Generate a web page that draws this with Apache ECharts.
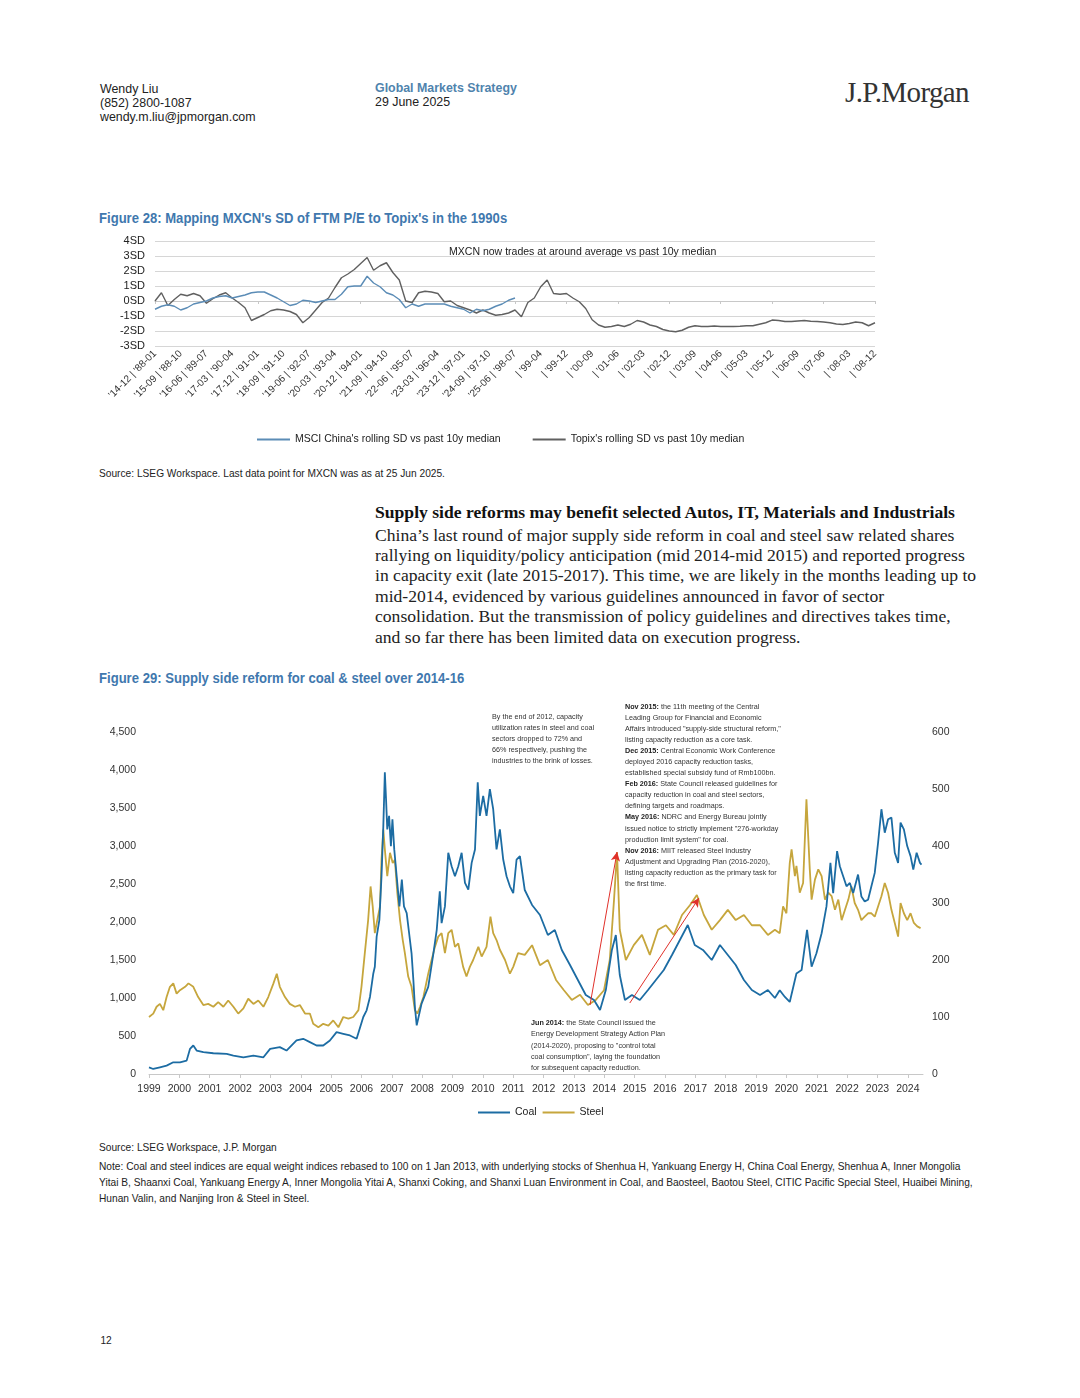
<!DOCTYPE html>
<html>
<head>
<meta charset="utf-8">
<script src="https://cdn.jsdelivr.net/npm/echarts@6/dist/echarts.min.js"></script>
<style>
  html,body{margin:0;padding:0;background:#fff;}
  #page{position:relative;width:1080px;height:1398px;background:#fff;overflow:hidden;
    font-family:'Liberation Sans',Arial,sans-serif;color:#222;}
  .abs{position:absolute;white-space:nowrap;}
  .nar{transform-origin:0 0;}
  .hdr{font-size:12.4px;line-height:14px;color:#222;}
  .blue{color:#4f83ad;font-weight:bold;}
  .ftitle{font-size:14px;line-height:18px;font-weight:bold;color:#3f78ae;transform:scaleX(0.935);}
  .src{font-size:11px;line-height:14px;color:#222;transform:scaleX(0.925);}
  .serif{font-family:'Liberation Serif','Times New Roman',serif;}
  .ann{font-size:8px;color:#333;transform:scaleX(0.9);}
  .ann b{font-weight:bold;color:#222;}
</style>
</head>
<body>
<div id="page">
  <div class="abs hdr" style="left:100px;top:82px;">Wendy Liu<br>(852) 2800-1087<br>wendy.m.liu@jpmorgan.com</div>
  <div class="abs hdr" style="left:375px;top:81px;"><span class="blue">Global Markets Strategy</span><br>29 June 2025</div>
  <div class="abs serif" style="left:845px;top:76px;font-size:29px;line-height:32px;color:#333;letter-spacing:-0.6px;">J.P.Morgan</div>

  <div class="abs nar ftitle" style="left:99px;top:209px;">Figure 28: Mapping MXCN's SD of FTM P/E to Topix's in the 1990s</div>
  <div id="c28" class="abs" style="left:95px;top:230px;width:820px;height:225px;"></div>
  <div class="abs nar" style="left:449px;top:244px;font-size:11.5px;line-height:14px;color:#222;transform:scaleX(0.915);">MXCN now trades at around average vs past 10y median</div>
  <div class="abs nar src" style="left:99px;top:466px;">Source: LSEG Workspace. Last data point for MXCN was as at 25 Jun 2025.</div>

  <div class="abs serif" style="left:375px;top:502px;font-size:17.6px;line-height:21px;font-weight:bold;color:#111;">Supply side reforms may benefit selected Autos, IT, Materials and Industrials</div>
  <div class="abs serif" style="left:375px;top:524.5px;font-size:17.6px;line-height:20.4px;color:#222;">China’s last round of major supply side reform in coal and steel saw related shares<br>rallying on liquidity/policy anticipation (mid 2014-mid 2015) and reported progress<br>in capacity exit (late 2015-2017). This time, we are likely in the months leading up to<br>mid-2014, evidenced by various guidelines announced in favor of sector<br>consolidation. But the transmission of policy guidelines and directives takes time,<br>and so far there has been limited data on execution progress.</div>

  <div class="abs nar ftitle" style="left:99px;top:669px;">Figure 29: Supply side reform for coal &amp; steel over 2014-16</div>
  <div id="c29" class="abs" style="left:95px;top:695px;width:880px;height:430px;"></div>
  <div class="abs nar ann" style="left:492px;top:710.5px;line-height:11px;">By the end of 2012, capacity<br>utilization rates in steel and coal<br>sectors dropped to 72% and<br>66% respectively, pushing the<br>industries to the brink of losses.</div>
  <div class="abs nar ann" style="left:625px;top:700.5px;line-height:11.1px;"><b>Nov 2015:</b> the 11th meeting of the Central<br>Leading Group for Financial and Economic<br>Affairs introduced "supply-side structural reform,"<br>listing capacity reduction as a core task.<br><b>Dec 2015:</b> Central Economic Work Conference<br>deployed 2016 capacity reduction tasks,<br>established special subsidy fund of Rmb100bn.<br><b>Feb 2016:</b> State Council released guidelines for<br>capacity reduction in coal and steel sectors,<br>defining targets and roadmaps.<br><b>May 2016:</b> NDRC and Energy Bureau jointly<br>issued notice to strictly implement "276-workday<br>production limit system" for coal.<br><b>Nov 2016:</b> MIIT released Steel Industry<br>Adjustment and Upgrading Plan (2016-2020),<br>listing capacity reduction as the primary task for<br>the first time.</div>
  <div class="abs nar ann" style="left:531px;top:1017px;line-height:11.25px;"><b>Jun 2014:</b> the State Council issued the<br>Energy Development Strategy Action Plan<br>(2014-2020), proposing to "control total<br>coal consumption", laying the foundation<br>for subsequent capacity reduction.</div>

  <div class="abs nar src" style="left:99px;top:1140px;">Source: LSEG Workspace, J.P. Morgan</div>
  <div class="abs nar src" style="left:99px;top:1158px;line-height:16px;">Note: Coal and steel indices are equal weight indices rebased to 100 on 1 Jan 2013, with underlying stocks of Shenhua H, Yankuang Energy H, China Coal Energy, Shenhua A, Inner Mongolia<br>Yitai B, Shaanxi Coal, Yankuang Energy A, Inner Mongolia Yitai A, Shanxi Coking, and Shanxi Luan Environment in Coal, and Baosteel, Baotou Steel, CITIC Pacific Special Steel, Huaibei Mining,<br>Hunan Valin, and Nanjing Iron &amp; Steel in Steel.</div>
  <div class="abs src" style="left:100px;top:1333px;">12</div>
</div>
<script>
// ---------- Figure 28 data ----------
const fig28TickLabels = ["'14-12 | '88-01","'15-09 | '88-10","'16-06 | '89-07","'17-03 | '90-04","'17-12 | '91-01","'18-09 | '91-10","'19-06 | '92-07","'20-03 | '93-04","'20-12 | '94-01","'21-09 | '94-10","'22-06 | '95-07","'23-03 | '96-04","'23-12 | '97-01","'24-09 | '97-10","'25-06 | '98-07","| '99-04","| '99-12","| '00-09","| '01-06","| '02-03","| '02-12","| '03-09","| '04-06","| '05-03","| '05-12","| '06-09","| '07-06","| '08-03","| '08-12"];
const topixSD = [0.0,0.55,-0.3,0.1,0.45,0.35,0.5,0.35,-0.15,0.15,
  0.4,0.55,0.2,-0.1,-0.45,-1.3,-1.1,-0.9,-0.65,-0.55,
  -0.6,-0.7,-0.9,-1.45,-1.1,-0.6,-0.1,0.2,0.9,1.55,
  1.8,2.1,2.5,2.9,2.05,2.35,2.55,1.9,1.4,0.0,
  -0.1,0.55,0.65,0.6,0.5,-0.05,0.0,-0.3,-0.45,-0.6,
  -0.8,-0.6,-0.8,-0.95,-0.9,-0.8,-0.6,-1.05,-0.1,0.2,
  0.95,1.4,0.5,0.45,0.5,0.2,-0.05,-0.5,-1.25,-1.6,
  -1.75,-1.7,-1.6,-1.7,-1.55,-1.3,-1.4,-1.6,-1.7,-1.9,
  -2.0,-2.05,-1.95,-1.75,-1.65,-1.7,-1.7,-1.67,-1.7,-1.7,
  -1.7,-1.68,-1.65,-1.65,-1.55,-1.45,-1.27,-1.3,-1.37,-1.37,
  -1.33,-1.3,-1.35,-1.37,-1.4,-1.45,-1.53,-1.57,-1.5,-1.4,
  -1.45,-1.65,-1.45];
const msciSD = [-0.55,-0.35,-0.25,-0.35,-0.6,-0.45,-0.2,-0.1,0.0,0.2,
  0.3,0.35,0.2,0.3,0.4,0.55,0.6,0.6,0.4,0.2,
  -0.05,-0.3,-0.2,0.05,0.0,-0.1,0.0,0.1,0.1,0.45,
  0.95,1.0,1.0,1.65,1.2,0.95,0.55,0.4,0.1,-0.45,
  -0.2,-0.35,-0.2,-0.2,-0.2,-0.2,-0.35,-0.45,-0.55,-0.8,
  -0.55,-0.65,-0.55,-0.35,-0.2,0.05,0.2];
const stepsPerTick = 4;

// ---------- Figure 29 data ----------
const coal = [
 [1999.00,88],[1999.14,66],[1999.36,88],[1999.58,110],[1999.80,154],[2000.02,154],[2000.24,176],[2000.35,330],[2000.46,375],[2000.57,309],
 [2000.79,287],[2001.12,273],[2001.56,265],[2001.78,243],[2002.11,220],[2002.44,243],[2002.77,220],[2002.99,330],[2003.31,353],[2003.53,309],
 [2003.86,441],[2004.08,463],[2004.30,419],[2004.52,375],[2004.74,375],[2004.96,441],[2005.18,551],[2005.40,529],[2005.62,507],[2005.84,463],
 [2006.06,750],[2006.17,838],[2006.28,1014],[2006.39,1323],[2006.44,1411],[2006.50,1808],[2006.59,2029],[2006.66,2602],[2006.72,3263],[2006.77,3969],
 [2006.81,3616],[2006.85,3219],[2006.91,3396],[2006.97,2999],[2007.02,3352],[2007.08,2955],[2007.16,2602],[2007.25,2205],[2007.33,2558],[2007.40,2205],
 [2007.49,2117],[2007.57,1852],[2007.65,1588],[2007.71,1235],[2007.76,882],[2007.82,640],[2007.98,926],[2008.20,1147],[2008.37,1588],[2008.48,1897],
 [2008.58,2403],[2008.64,1985],[2008.75,2205],[2008.86,2910],[2008.97,2734],[2009.08,2602],[2009.19,2734],[2009.30,2910],[2009.41,2514],[2009.52,2425],
 [2009.63,2778],[2009.74,2955],[2009.83,3837],[2009.90,3396],[2010.01,3660],[2010.12,3396],[2010.23,3748],[2010.34,3484],[2010.45,2955],[2010.56,3219],
 [2010.67,2822],[2010.78,2602],[2010.89,2470],[2011.00,2381],[2011.11,2822],[2011.22,2866],[2011.38,2421],[2011.62,2224],[2011.88,2092],[2012.14,1829],
 [2012.37,1895],[2012.60,1632],[2012.87,1434],[2013.13,1237],[2013.39,1040],[2013.66,974],[2013.86,842],[2014.05,1105],[2014.25,1632],[2014.38,1829],
 [2014.51,1303],[2014.68,974],[2014.91,1040],[2015.17,974],[2015.44,1105],[2015.70,1237],[2015.96,1369],[2016.23,1566],[2016.49,1763],[2016.75,1961],
 [2016.98,1698],[2017.25,1632],[2017.54,1500],[2017.81,1698],[2018.07,1566],[2018.33,1434],[2018.60,1237],[2018.86,1105],[2019.13,1040],[2019.39,1105],
 [2019.62,1000],[2019.78,1103],[2019.95,1014],[2020.11,948],[2020.33,1323],[2020.50,1367],[2020.68,1896],[2020.83,1411],[2020.99,1588],[2021.16,1852],
 [2021.32,2205],[2021.45,2778],[2021.54,2381],[2021.67,2933],[2021.76,2734],[2021.87,2602],[2021.98,2470],[2022.09,2514],[2022.20,2381],[2022.36,2624],
 [2022.47,2337],[2022.58,2271],[2022.69,2293],[2022.80,2470],[2022.91,2646],[2023.02,3043],[2023.13,3484],[2023.24,3175],[2023.35,3352],[2023.46,3374],
 [2023.57,2911],[2023.68,2778],[2023.76,3308],[2023.87,3219],[2023.98,2999],[2024.09,2867],[2024.18,2690],[2024.29,2911],[2024.40,2778],[2024.45,2756]
];
const steel = [
 [1999.00,100],[1999.14,106],[1999.25,118],[1999.36,123],[1999.47,112],[1999.58,135],[1999.69,153],[1999.80,159],[1999.91,141],[2000.02,147],
 [2000.19,153],[2000.30,159],[2000.46,153],[2000.62,135],[2000.79,121],[2000.95,123],[2001.12,118],[2001.28,126],[2001.45,118],[2001.61,129],
 [2001.78,118],[2001.94,106],[2002.11,115],[2002.27,132],[2002.44,123],[2002.60,129],[2002.77,118],[2002.93,135],[2003.10,159],[2003.21,176],
 [2003.31,153],[2003.48,135],[2003.64,123],[2003.81,118],[2003.97,121],[2004.14,106],[2004.30,106],[2004.41,88],[2004.58,82],[2004.74,88],
 [2004.91,85],[2005.07,94],[2005.24,82],[2005.40,100],[2005.57,97],[2005.73,100],[2005.90,112],[2006.00,153],[2006.11,212],[2006.22,270],
 [2006.30,329],[2006.37,294],[2006.44,247],[2006.52,270],[2006.61,294],[2006.66,376],[2006.72,429],[2006.77,394],[2006.85,347],[2006.94,388],
 [2007.03,370],[2007.10,376],[2007.18,318],[2007.27,270],[2007.36,235],[2007.43,212],[2007.54,171],[2007.65,153],[2007.76,112],[2007.84,106],
 [2007.93,118],[2008.04,135],[2008.20,176],[2008.31,200],[2008.42,223],[2008.53,241],[2008.64,247],[2008.75,212],[2008.86,247],[2008.97,253],
 [2009.08,223],[2009.19,229],[2009.35,188],[2009.46,171],[2009.57,188],[2009.68,200],[2009.85,223],[2009.96,206],[2010.12,223],[2010.25,276],
 [2010.34,247],[2010.45,235],[2010.56,218],[2010.73,200],[2010.89,176],[2011.00,188],[2011.16,212],[2011.38,209],[2011.62,226],[2011.88,191],
 [2012.14,200],[2012.41,165],[2012.67,147],[2012.93,130],[2013.20,139],[2013.46,121],[2013.72,130],[2013.99,147],[2014.18,200],[2014.32,305],
 [2014.42,389],[2014.51,253],[2014.71,200],[2014.97,226],[2015.24,244],[2015.50,209],[2015.77,253],[2016.03,261],[2016.29,244],[2016.56,279],
 [2016.82,296],[2017.05,314],[2017.28,279],[2017.54,253],[2017.81,270],[2018.07,288],[2018.33,270],[2018.60,279],[2018.86,261],[2019.13,261],
 [2019.39,244],[2019.62,253],[2019.78,247],[2019.89,294],[2020.00,282],[2020.11,370],[2020.17,394],[2020.28,347],[2020.33,365],[2020.44,318],
 [2020.55,335],[2020.66,482],[2020.77,359],[2020.83,306],[2020.94,341],[2021.05,359],[2021.16,347],[2021.27,306],[2021.38,318],[2021.49,312],
 [2021.60,288],[2021.71,306],[2021.82,270],[2021.93,288],[2022.04,306],[2022.14,329],[2022.25,300],[2022.36,288],[2022.47,270],[2022.58,276],
 [2022.69,282],[2022.80,282],[2022.91,276],[2023.02,294],[2023.13,312],[2023.24,335],[2023.35,318],[2023.46,288],[2023.57,265],[2023.68,241],
 [2023.76,300],[2023.87,282],[2023.98,270],[2024.09,282],[2024.20,265],[2024.31,259],[2024.42,256]
];
const yearMin = 1999, yearMax = 2024.5;
const arrows = [
  [[2013.53, 908],[2014.42, 2921]],
  [[2014.84, 934],[2017.12, 2316]]
];

const FF = "'Liberation Sans',Arial,sans-serif";

// ---------- Figure 28 chart ----------
const c28 = echarts.init(document.getElementById('c28'), null, {renderer:'canvas'});
const maxIdx = (fig28TickLabels.length - 1) * stepsPerTick;
c28.setOption({
  animation:false,
  textStyle:{fontFamily:FF},
  grid:{left:60, top:11, width:720, height:105},
  legend:{
    left:157, top:199, itemWidth:33, itemHeight:2, itemGap:32, icon:'rect',
    textStyle:{fontFamily:FF, fontSize:10.5, color:'#222'},
    data:["MSCI China's rolling SD vs past 10y median","Topix's rolling SD vs past 10y median"]
  },
  xAxis:[{
    type:'value', min:0, max:maxIdx, interval:stepsPerTick,
    axisLine:{show:false, onZero:false}, axisTick:{show:false}, splitLine:{show:false},
    axisLabel:{rotate:45, fontSize:10, color:'#333', margin:6, fontFamily:FF,
      formatter:v => fig28TickLabels[Math.round(v/stepsPerTick)] || ''}
  },{
    type:'value', min:0, max:maxIdx, interval:stepsPerTick*2, position:'bottom',
    axisLine:{show:true, onZero:true, lineStyle:{color:'#c8c8c8', width:1}},
    axisTick:{show:true, length:3, inside:false, lineStyle:{color:'#c8c8c8'}},
    axisLabel:{show:false}, splitLine:{show:false}
  }],
  yAxis:{
    type:'value', min:-3, max:4, interval:1,
    axisLine:{show:false}, axisTick:{show:false},
    splitLine:{show:true, lineStyle:{color:'#d6d6d6', width:1}},
    axisLabel:{formatter:v => v + 'SD', fontSize:11, color:'#222', margin:10, fontFamily:FF}
  },
  series:[{
    name:"MSCI China's rolling SD vs past 10y median", type:'line', xAxisIndex:0,
    data: msciSD.map((v,i)=>[i,v]), showSymbol:false, symbol:'none',
    lineStyle:{color:'#5b8cb6', width:1.4}, itemStyle:{color:'#5b8cb6'}, z:3
  },{
    name:"Topix's rolling SD vs past 10y median", type:'line', xAxisIndex:0,
    data: topixSD.map((v,i)=>[i,v]), showSymbol:false, symbol:'none',
    lineStyle:{color:'#606060', width:1.4}, itemStyle:{color:'#606060'}, z:2
  }]
});

// ---------- Figure 29 chart ----------
const c29 = echarts.init(document.getElementById('c29'), null, {renderer:'canvas'});
c29.setOption({
  animation:false,
  textStyle:{fontFamily:FF},
  grid:{left:54, top:37, width:774, height:342},
  legend:{
    left:378, top:407, itemWidth:32, itemHeight:2, itemGap:6, icon:'rect',
    textStyle:{fontFamily:FF, fontSize:10.5, color:'#222'},
    data:['Coal','Steel']
  },
  xAxis:{
    type:'value', min:yearMin, max:yearMax, interval:1,
    axisLine:{show:true, onZero:false, lineStyle:{color:'#c8c8c8'}},
    axisTick:{show:true, length:4, lineStyle:{color:'#c8c8c8'}},
    splitLine:{show:false},
    axisLabel:{fontSize:10.5, color:'#333', margin:10, fontFamily:FF, showMaxLabel:false,
      formatter:v => (Math.abs(v - Math.round(v)) < 1e-6 ? String(Math.round(v)) : '')}
  },
  yAxis:[{
    type:'value', min:0, max:4500, interval:500,
    axisLine:{show:false}, axisTick:{show:false}, splitLine:{show:false},
    axisLabel:{fontSize:10.5, color:'#333', margin:13, fontFamily:FF}
  },{
    type:'value', min:0, max:600, interval:100, position:'right',
    axisLine:{show:false}, axisTick:{show:false}, splitLine:{show:false},
    axisLabel:{fontSize:10.5, color:'#333', margin:9, fontFamily:FF}
  }],
  series:[{
    name:'Coal', type:'line', yAxisIndex:0, data:coal, showSymbol:false, symbol:'none',
    lineStyle:{color:'#1c6ca3', width:1.8}, itemStyle:{color:'#1c6ca3'}, z:3,
    markLine:{
      silent:true, symbol:['none','arrow'], symbolSize:[7,9],
      lineStyle:{color:'#e0302a', width:1, type:'solid'}, label:{show:false},
      data: arrows.map(a => [{coord:a[0]},{coord:a[1]}])
    }
  },{
    name:'Steel', type:'line', yAxisIndex:1, data:steel, showSymbol:false, symbol:'none',
    lineStyle:{color:'#c6a63d', width:1.8}, itemStyle:{color:'#c6a63d'}, z:2
  }]
});
</script>
</body>
</html>
